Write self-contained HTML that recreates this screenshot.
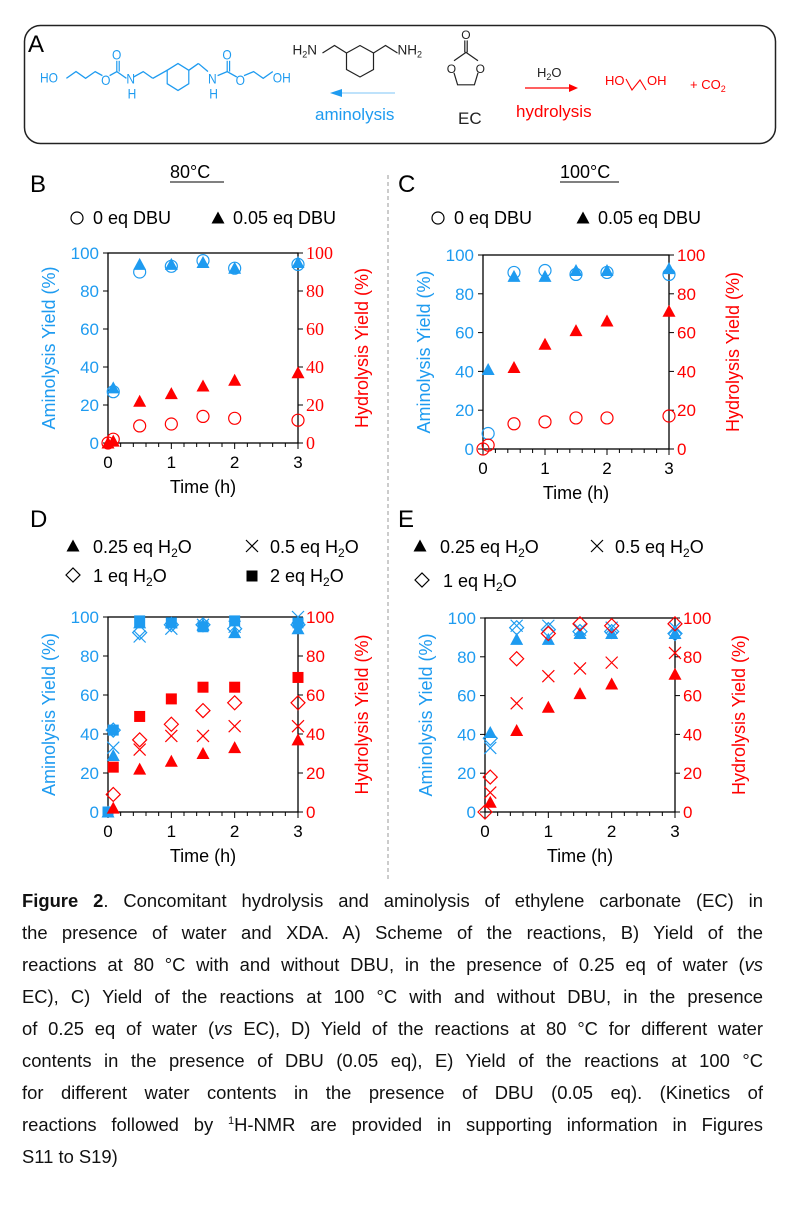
<!DOCTYPE html>
<html><head><meta charset="utf-8">
<style>
body{margin:0;background:#fff;width:786px;height:1209px;overflow:hidden;font-family:"Liberation Sans",Arial,sans-serif;}
svg{position:absolute;left:0;top:0}
.cap{position:absolute;left:22px;width:741px;font-size:18.4px;color:#111;line-height:32px}
.cap div{text-align:justify;text-align-last:justify;height:32px;white-space:nowrap}
</style></head><body>
<svg id="s" width="786" height="1209" xmlns="http://www.w3.org/2000/svg" font-family="Liberation Sans, Arial, sans-serif">
<rect x="24.5" y="25.5" width="751" height="118" rx="16" fill="none" stroke="#222" stroke-width="1.5"/>
<text x="28" y="52" font-size="24">A</text>
<!-- blue product -->
<g transform="translate(40,77) scale(1.2,1.35) translate(-42,-75)">
<g stroke="#1e9bf0" fill="none" stroke-width="1">
<polyline points="64,76 72,71 80,76 88,71 94,74"/>
<polyline points="100,74 106,71 114,76"/>
<line x1="106" y1="71" x2="106" y2="63"/><line x1="108" y1="71" x2="108" y2="63"/>
<polyline points="120,75 128,71 136,76"/>
<polygon points="148,70 157,65 166,70 166,80 157,85 148,80"/>
<line x1="136" y1="76" x2="148" y2="70"/><line x1="166" y1="70" x2="174" y2="65"/><line x1="174" y1="65" x2="182" y2="71"/>
<polyline points="190,74 198,71 206,75"/>
<line x1="198" y1="71" x2="198" y2="63"/><line x1="200" y1="71" x2="200" y2="63"/>
<polyline points="212,74 220,71 228,76 236,71"/>
</g>
<g fill="#1e9bf0" font-size="10">
<text x="42" y="79">HO</text><text x="93" y="81">O</text><text x="102" y="62">O</text><text x="114" y="80">N</text><text x="115" y="91">H</text>
<text x="182" y="80">N</text><text x="183" y="91">H</text><text x="194" y="62">O</text><text x="205" y="81">O</text><text x="236" y="79">OH</text>
</g></g>
<!-- XDA -->
<g transform="translate(360,56) scale(1.5) translate(-360,-56)">
<g stroke="#222" fill="none" stroke-width="0.8">
<polygon points="351,54 360,49 369,54 369,65 360,70 351,65"/>
<polyline points="351,54 343,49 335,54"/><polyline points="369,54 377,49 385,54"/>
</g>
<g font-size="9" fill="#222"><text x="315" y="55">H<tspan font-size="6" dy="2">2</tspan><tspan dy="-2">N</tspan></text><text x="385" y="55">NH<tspan font-size="6" dy="2">2</tspan></text></g>
</g>
<line x1="395" y1="93" x2="340" y2="93" stroke="#a8d8fa" stroke-width="1.5"/>
<polygon points="330,93 342,89 342,97" fill="#1e9bf0"/>
<text x="315" y="120" font-size="17" fill="#1e9bf0">aminolysis</text>
<!-- EC -->
<g transform="translate(466,68) scale(1.2) translate(-466,-68)">
<g stroke="#222" fill="none" stroke-width="1"><polyline points="456,62 466,55 476,62"/><line x1="465" y1="55" x2="465" y2="45"/><line x1="467" y1="55" x2="467" y2="45"/><polyline points="456,72 459,82 473,82 476,72"/></g>
<g font-size="10" fill="#222"><text x="462" y="44">O</text><text x="450" y="72">O</text><text x="474" y="72">O</text></g>
</g>
<text x="458" y="124" font-size="17" fill="#222">EC</text>
<text x="537" y="77" font-size="13" fill="#222">H<tspan font-size="9" dy="3">2</tspan><tspan dy="-3">O</tspan></text>
<line x1="525" y1="88" x2="572" y2="88" stroke="#f00" stroke-width="1.3"/><polygon points="578,88 569,84 569,92" fill="#f00"/>
<text x="516" y="117" font-size="17" fill="#f00">hydrolysis</text>
<g stroke="#f00" fill="none" stroke-width="1.1"><polyline points="626,79 632,90 640,80 646,90"/></g>
<g font-size="13" fill="#f00"><text x="605" y="85">HO</text><text x="647" y="85">OH</text><text x="690" y="89">+ CO<tspan font-size="9" dy="3">2</tspan></text></g>
<line x1="388" y1="175" x2="388" y2="880" stroke="#999" stroke-dasharray="4,3" stroke-width="1"/>
<g id="g"></g>
</svg>
<div class="cap" style="top:885px">
<div><b>Figure 2</b>. Concomitant hydrolysis and aminolysis of ethylene carbonate (EC) in</div>
<div>the presence of water and XDA. A) Scheme of the reactions, B) Yield of the</div>
<div>reactions at 80 °C with and without DBU, in the presence of 0.25 eq of water (<i>vs</i></div>
<div>EC), C) Yield of the reactions at 100 °C with and without DBU, in the presence</div>
<div>of 0.25 eq of water (<i>vs</i> EC), D) Yield of the reactions at 80 °C for different water</div>
<div>contents in the presence of DBU (0.05 eq), E) Yield of the reactions at 100 °C</div>
<div>for different water contents in the presence of DBU (0.05 eq). (Kinetics of</div>
<div>reactions followed by <sup style="font-size:11px;line-height:0">1</sup>H-NMR are provided in supporting information in Figures</div>
<div style="text-align-last:left">S11 to S19)</div>
</div>
<script>
var B='#1e9bf0',R='#f00',out='';
function mk(t,x,y,c){
 if(t=='o')return '<circle cx="'+x+'" cy="'+y+'" r="6" fill="none" stroke="'+c+'" stroke-width="1.2"/>';
 if(t=='t')return '<polygon points="'+(x-6.5)+','+(y+5.5)+' '+(x+6.5)+','+(y+5.5)+' '+x+','+(y-6.5)+'" fill="'+c+'"/>';
 if(t=='s')return '<rect x="'+(x-5.5)+'" y="'+(y-5.5)+'" width="11" height="11" fill="'+c+'"/>';
 if(t=='d')return '<polygon points="'+(x-7)+','+y+' '+x+','+(y-7)+' '+(x+7)+','+y+' '+x+','+(y+7)+'" fill="none" stroke="'+c+'" stroke-width="1.2"/>';
 if(t=='x')return '<path d="M'+(x-6)+' '+(y-6)+'L'+(x+6)+' '+(y+6)+'M'+(x+6)+' '+(y-6)+'L'+(x-6)+' '+(y+6)+'" stroke="'+c+'" stroke-width="1.2"/>';
}
function plot(p){
 var X=function(t){return p.x0+t*(p.x3-p.x0)/3},Y=function(v){return p.y0-v*(p.y0-p.y1)/100};
 var s='<rect x="'+p.x0+'" y="'+p.y1+'" width="'+(p.x3-p.x0)+'" height="'+(p.y0-p.y1)+'" fill="none" stroke="#000" stroke-width="1.3"/>';
 for(var i=0;i<=5;i++){var y=Y(i*20);
  s+='<line x1="'+(p.x0-5)+'" y1="'+y+'" x2="'+p.x0+'" y2="'+y+'" stroke="#000"/><line x1="'+p.x3+'" y1="'+y+'" x2="'+(p.x3+5)+'" y2="'+y+'" stroke="#000"/>';
  s+='<text x="'+(p.x0-9)+'" y="'+(y+6)+'" font-size="17" fill="'+B+'" text-anchor="end">'+i*20+'</text>';
  s+='<text x="'+(p.x3+8)+'" y="'+(y+6)+'" font-size="'+(p.serif?18:17)+'" fill="'+R+'"'+(p.serif?' font-family="Liberation Serif, serif"':'')+'>'+i*20+'</text>';}
 for(var k=0;k<=15;k++){var x=X(k*0.2);s+='<line x1="'+x+'" y1="'+p.y0+'" x2="'+x+'" y2="'+(p.y0+(k%5==0?6:4))+'" stroke="#000"/>';}
 for(var k=0;k<=3;k++)s+='<text x="'+X(k)+'" y="'+(p.y0+25)+'" font-size="17" text-anchor="middle">'+k+'</text>';
 var cy=(p.y0+p.y1)/2;
 s+='<text transform="translate('+(p.x0-53)+','+cy+') rotate(-90)" font-size="18" fill="'+B+'" text-anchor="middle">Aminolysis Yield (%)</text>';
 s+='<text transform="translate('+(p.x3+70)+','+cy+') rotate(-90)" font-size="18" fill="'+R+'" text-anchor="middle">Hydrolysis Yield (%)</text>';
 s+='<text x="'+((p.x0+p.x3)/2)+'" y="'+(p.y0+50)+'" font-size="18" text-anchor="middle">Time (h)</text>';
 p.d.forEach(function(sr){sr[2].forEach(function(pt){s+=mk(sr[0],X(pt[0]),Y(pt[1]),sr[1]);});});
 return s;}
var T=[0.083,0.5,1,1.5,2,3],T0=[0,0.083,0.5,1,1.5,2,3];
function z(t,v){return t.map(function(a,i){return [a,v[i]]})}
out+=plot({x0:108,x3:298,y1:253,y0:443,serif:1,d:[
 ['o',B,z(T,[27,90,93,96,92,94])],['t',B,z(T,[29,94,94,95,92,95])],
 ['o',R,z(T0,[0,2,9,10,14,13,12])],['t',R,z(T0,[0,1,22,26,30,33,37])]]});
out+=plot({x0:483,x3:669,y1:255,y0:449,d:[
 ['t',B,z(T,[41,89,89,92,92,93])],['o',B,z(T,[8,91,92,90,91,90])],
 ['o',R,z(T0,[0,2,13,14,16,16,17])],['t',R,z([0.5,1,1.5,2,3],[42,54,61,66,71])]]});
out+=plot({x0:108,x3:298,y1:617,y0:812,d:[
 ['t',B,z(T0,[0,29,97,97,96,92,94])],['x',B,z(T,[33,90,94,96,95,100])],['d',B,z(T,[42,92,96,96,94,96])],['s',B,z(T0,[0,42,98,97,95,98,97])],
 ['s',R,z(T,[23,49,58,64,64,69])],['d',R,z(T,[9,37,45,52,56,56])],['x',R,z([0.5,1,1.5,2,3],[32,39,39,44,44])],['t',R,z(T,[2,22,26,30,33,37])]]});
out+=plot({x0:485,x3:675,y1:618,y0:812,d:[
 ['t',B,z(T,[41,89,89,92,92,92])],['x',B,z(T,[33,96,96,94,95,95])],['d',B,z(T,[38,95,94,93,93,92])],
 ['d',R,z(T0,[0,18,79,92,97,96,97])],['x',R,z(T,[10,56,70,74,77,82])],['t',R,z(T,[5,42,54,61,66,71])]]});
function tx(x,y,t,sz,extra){return '<text x="'+x+'" y="'+y+'" font-size="'+sz+'" '+(extra||'')+'>'+t+'</text>';}
out+=tx(30,192,'B',24)+tx(30,527,'D',24)+tx(398,192,'C',24)+tx(398,527,'E',24);
out+=tx(170,178,'80°C',18)+'<line x1="170" y1="182" x2="224" y2="182" stroke="#000"/>';
out+=tx(560,178,'100°C',18)+'<line x1="560" y1="182" x2="619" y2="182" stroke="#000"/>';
out+=mk('o',77,218,'#000')+tx(93,224,'0 eq DBU',18)+mk('t',218,218,'#000')+tx(233,224,'0.05 eq DBU',18);
out+=mk('o',438,218,'#000')+tx(454,224,'0 eq DBU',18)+mk('t',583,218,'#000')+tx(598,224,'0.05 eq DBU',18);
var h='H<tspan font-size="12" dy="4">2</tspan><tspan dy="-4">O</tspan>';
out+=mk('t',73,546,'#000')+tx(93,553,'0.25 eq '+h,18)+mk('x',252,546,'#000')+tx(270,553,'0.5 eq '+h,18);
out+=mk('d',73,575,'#000')+tx(93,582,'1 eq '+h,18)+mk('s',252,576,'#000')+tx(270,582,'2 eq '+h,18);
out+=mk('t',420,546,'#000')+tx(440,553,'0.25 eq '+h,18)+mk('x',597,546,'#000')+tx(615,553,'0.5 eq '+h,18);
out+=mk('d',422,580,'#000')+tx(443,587,'1 eq '+h,18);
document.getElementById('g').innerHTML=out;
</script>
</body></html>
